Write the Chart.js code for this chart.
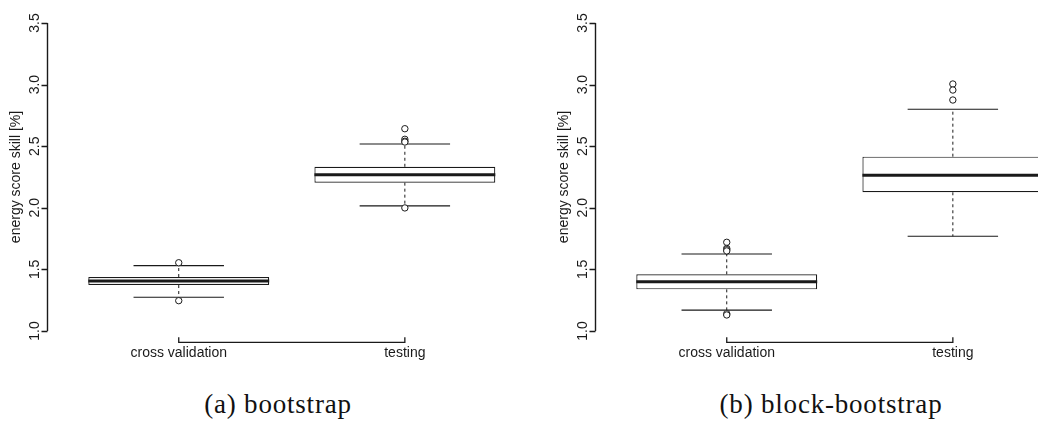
<!DOCTYPE html>
<html>
<head>
<meta charset="utf-8">
<script src="https://cdn.jsdelivr.net/npm/chart.js@4"></script>
<style>
  html, body { margin: 0; padding: 0; background: #fff; overflow: hidden; }
  #wrap { position: relative; width: 1038px; height: 433px; overflow: hidden; }
  canvas { position: absolute; top: 0; }
  #c1 { left: 0; }
  #c2 { left: 548px; }
  .cap { position: absolute; top: 391px; width: 400px; text-align: center;
         font-family: "Liberation Serif", "DejaVu Serif", serif; font-size: 27px;
         line-height: 27px; letter-spacing: 0.8px; color: #111; }
</style>
</head>
<body>
<div id="wrap">
  <canvas id="c1" width="560" height="360"></canvas>
  <canvas id="c2" width="560" height="360"></canvas>
  <div class="cap" style="left:78px">(a) bootstrap</div>
  <div class="cap" style="left:631px">(b) block-bootstrap</div>
</div>
<script>
const GROUPS = ["cross validation", "testing"];
const Y_TICKS = [1.0, 1.5, 2.0, 2.5, 3.0, 3.5];
const Y_TITLE = "energy score skill [%]";

// (a) bootstrap: per group
const BOOT_LO  = [1.274, 2.015];
const BOOT_Q1  = [1.373, 2.204];
const BOOT_MED = [1.406, 2.269];
const BOOT_Q3  = [1.438, 2.333];
const BOOT_HI  = [1.530, 2.518];
const BOOT_OUT = [[1.554, 1.246], [2.642, 2.556, 2.540, 2.534, 1.999]];

// (b) block-bootstrap
const BLOCK_LO  = [1.170, 1.769];
const BLOCK_Q1  = [1.338, 2.126];
const BLOCK_MED = [1.400, 2.264];
const BLOCK_Q3  = [1.460, 2.415];
const BLOCK_HI  = [1.625, 2.800];
const BLOCK_OUT = [[1.720, 1.670, 1.660, 1.650, 1.140, 1.130], [3.005, 2.956, 2.875]];

const INK = "#1a1a1a";
const FONT = '14px "Liberation Sans", Arial, sans-serif';
const BOX_HALF = 0.4;

// R style axes: y axis spanning the ticks only, x axis as a bracket
const rAxes = {
  id: "rAxes",
  afterDraw(chart) {
    const { ctx, chartArea } = chart;
    const xs = chart.scales.x, ys = chart.scales.y;
    const ax = Math.round(chartArea.left) - 0.5;
    ctx.save();
    ctx.setLineDash([]);
    ctx.strokeStyle = INK;
    ctx.fillStyle = INK;
    ctx.lineWidth = 1.4;
    ctx.font = FONT;
    ctx.textAlign = "center";
    ctx.textBaseline = "middle";

    ctx.beginPath();
    ctx.moveTo(ax, ys.getPixelForValue(Y_TICKS[0]));
    ctx.lineTo(ax, ys.getPixelForValue(Y_TICKS[Y_TICKS.length - 1]));
    Y_TICKS.forEach(v => {
      const py = Math.round(ys.getPixelForValue(v)) + 0.5;
      ctx.moveTo(ax - 6, py);
      ctx.lineTo(ax, py);
    });
    ctx.stroke();

    // x axis bracket between the first and last group
    const by = chartArea.bottom - 1;
    const x1 = xs.getPixelForValue(1);
    const x2 = xs.getPixelForValue(GROUPS.length);
    ctx.beginPath();
    ctx.moveTo(x1, by - 5);
    ctx.lineTo(x1, by);
    ctx.lineTo(x2, by);
    ctx.lineTo(x2, by - 5);
    ctx.lineWidth = 1.3;
    ctx.stroke();

    Y_TICKS.forEach(v => {
      ctx.save();
      ctx.translate(ax - 12, ys.getPixelForValue(v));
      ctx.rotate(-Math.PI / 2);
      ctx.fillText(v.toFixed(1), 0, 0);
      ctx.restore();
    });
    ctx.save();
    ctx.translate(ax - 31, (ys.getPixelForValue(Y_TICKS[0]) + ys.getPixelForValue(Y_TICKS[Y_TICKS.length - 1])) / 2);
    ctx.rotate(-Math.PI / 2);
    ctx.fillText(Y_TITLE, 0, 0);
    ctx.restore();

    GROUPS.forEach((g, i) => ctx.fillText(g, xs.getPixelForValue(i + 1), by + 11));
    ctx.restore();
  }
};

function makeChart(id, lo, q1, med, q3, hi, outs) {
  const pos = GROUPS.map((g, i) => i + 1);
  const median = [], whisk = [], caps = [], outliers = [];
  pos.forEach((c, i) => {
    median.push({ x: c - BOX_HALF, y: med[i] }, { x: c + BOX_HALF, y: med[i] }, { x: c, y: null });
    whisk.push({ x: c, y: q3[i] }, { x: c, y: hi[i] }, { x: c, y: null },
               { x: c, y: q1[i] }, { x: c, y: lo[i] }, { x: c, y: null });
    caps.push({ x: c - BOX_HALF / 2, y: hi[i] }, { x: c + BOX_HALF / 2, y: hi[i] }, { x: c, y: null },
              { x: c - BOX_HALF / 2, y: lo[i] }, { x: c + BOX_HALF / 2, y: lo[i] }, { x: c, y: null });
    outs[i].forEach(v => outliers.push({ x: c, y: v }));
  });

  return new Chart(document.getElementById(id), {
    type: "bar",
    data: {
      datasets: [
        {
          type: "scatter",
          data: outliers,
          pointStyle: "circle",
          pointRadius: 3.2,
          borderWidth: 1,
          borderColor: INK,
          backgroundColor: "#fff"
        },
        {
          type: "line",
          data: median,
          borderColor: INK,
          borderWidth: 3,
          pointRadius: 0,
          spanGaps: false
        },
        {
          data: pos.map((c, i) => ({ x: c, y: [q1[i], q3[i]] })),
          backgroundColor: "#fff",
          borderColor: INK,
          borderWidth: 1.2,
          borderSkipped: false,
          barPercentage: BOX_HALF * 2,
          categoryPercentage: 1
        },
        {
          type: "line",
          data: whisk,
          borderColor: INK,
          borderWidth: 1,
          borderDash: [3, 3],
          pointRadius: 0,
          spanGaps: false
        },
        {
          type: "line",
          data: caps,
          borderColor: INK,
          borderWidth: 1.2,
          pointRadius: 0,
          spanGaps: false
        }
      ]
    },
    options: {
      responsive: false,
      animation: false,
      layout: { padding: { left: 47.6, right: 24, top: 10.7, bottom: 16.7 } },
      plugins: { legend: { display: false }, tooltip: { enabled: false } },
      scales: {
        x: {
          type: "linear", display: false, offset: false, min: 0.42, max: 2.58,
          afterBuildTicks: s => { s.ticks = pos.map(v => ({ value: v })); }
        },
        y: { type: "linear", display: false, min: 0.9, max: 3.6 }
      }
    },
    plugins: [rAxes]
  });
}

makeChart("c1", BOOT_LO, BOOT_Q1, BOOT_MED, BOOT_Q3, BOOT_HI, BOOT_OUT);
makeChart("c2", BLOCK_LO, BLOCK_Q1, BLOCK_MED, BLOCK_Q3, BLOCK_HI, BLOCK_OUT);
</script>
</body>
</html>
